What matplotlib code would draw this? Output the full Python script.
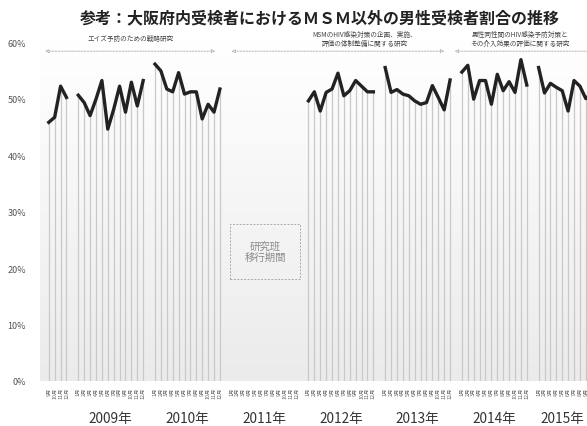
import numpy as np
import matplotlib.pyplot as plt
from matplotlib.patches import Rectangle
from matplotlib.transforms import blended_transform_factory

plt.rcParams['font.family'] = ['Noto Sans CJK JP', 'DejaVu Sans']

# monthly share (%) per year; None = no data
y2008 = [None] * 8 + [45.8, 46.7, 52.2, 50.2]   # Sep-Dec only
y2009 = [50.6, 49.3, 47.0, 49.9, 53.2, 44.6, 48.1, 52.2, 47.6, 52.9, 48.7, 53.2]
y2010 = [56.1, 54.9, 51.7, 51.2, 54.6, 50.8, 51.2, 51.2, 46.4, 49.0, 47.6, 51.7]
y2011 = [None] * 12
y2012 = [49.6, 51.2, 47.8, 51.1, 51.7, 54.5, 50.5, 51.4, 53.2, 52.2, 51.2, 51.2]
y2013 = [55.5, 51.1, 51.6, 50.8, 50.5, 49.6, 49.0, 49.3, 52.3, 50.2, 48.0, 53.3]
y2014 = [54.7, 55.9, 49.9, 53.2, 53.2, 49.0, 54.3, 51.4, 53.0, 51.1, 56.9, 52.4]
y2015 = [55.5, 51.0, 52.7, 52.0, 51.4, 47.8, 53.2, 52.2, 50.0, 51.0, 50.5, 51.0]

years = [2008, 2009, 2010, 2011, 2012, 2013, 2014, 2015]
series = [y2008, y2009, y2010, y2011, y2012, y2013, y2014, y2015]
year_labels = ['2009年', '2010年', '2011年', '2012年', '2013年', '2014年', '2015年']

fig = plt.figure(figsize=(5.87, 4.27), dpi=100)
ax = fig.add_axes([0.068, 0.1054, 0.932, 0.7936])

# light gray gradient in the plot area
grad = np.linspace(0, 1, 256).reshape(-1, 1)
ax.imshow(grad, extent=[0, 1, 0, 1], transform=ax.transAxes, aspect='auto',
          cmap=plt.matplotlib.colors.LinearSegmentedColormap.from_list('g', ['#ebebeb', '#ffffff']),
          origin='lower', zorder=0)

xticks, xlabels = [], []
for k, (yr, vals) in enumerate(zip(years, series)):
    base = (yr - 2009) * 13
    xs = [base + m for m in range(12)]
    for m in range(12):
        if yr == 2008 and m < 8:
            continue
        xticks.append(xs[m])
        xlabels.append(f'{m + 1}月')
    pts = [(x, v) for x, v in zip(xs, vals) if v is not None]
    if not pts:
        continue
    px, pv = zip(*pts)
    pv = np.array(pv) / 100
    ax.vlines(px, 0, pv, color='#c9c9c9', lw=0.9, zorder=1)
    ax.plot(px, pv, color='#222222', lw=2.4, solid_joinstyle='round', zorder=3)

ax.set_yticks(np.arange(0, 0.61, 0.1))
ax.set_yticklabels([f'{int(round(t * 100))}%' for t in np.arange(0, 0.61, 0.1)],
                   fontsize=6.5, color='#555555')
ax.set_xticks(xticks)
ax.set_xticklabels(xlabels, rotation=90, fontsize=3.8, color='#666666')
ax.set_xlim(-6.5, 86.2)
ax.set_ylim(0, 0.6)
ax.tick_params(length=0, pad=4)
ax.tick_params(axis='y', pad=10)
for s in ax.spines.values():
    s.set_visible(False)

trans = blended_transform_factory(ax.transData, ax.transAxes)
for i, lab in enumerate(year_labels):
    xc = i * 13 + 5.5
    if i == len(year_labels) - 1:
        xc = 82.0   # last year is cut by the frame, centre on the visible part
    ax.text(xc, -0.108, lab, transform=trans, ha='center', va='center',
            fontsize=9.8, color='#333333', clip_on=False)

# research period arrows
arrows = [(-5.6, 23.2, 8.8, 'エイズ予防のための戦略研究'),
          (26.0, 62.0, 48.6, 'MSMのHIV感染対策の企画、実施、\n評価の体制整備に関する研究'),
          (63.8, 90.0, 74.8, '男性同性間のHIV感染予防対策と\nその介入効果の評価に関する研究')]
for x0, x1, xt, txt in arrows:
    ax.annotate('', xy=(x0, 0.584), xytext=(x1, 0.584), annotation_clip=False,
                arrowprops=dict(arrowstyle='<|-|>', linestyle=(0, (2, 1.5)), color='#aaaaaa',
                                lw=0.6, mutation_scale=5, fc='white', shrinkA=0, shrinkB=0))
    ax.text(xt, 0.607, txt, ha='center', va='center', fontsize=4.8, color='#444444',
            linespacing=1.1, clip_on=False)

ax.add_patch(Rectangle((25.7, 0.181), 11.9, 0.097, fill=False, ec='#aaaaaa',
                       ls=(0, (2, 1.5)), lw=0.7, zorder=2))
ax.text(31.65, 0.2295, '研究班\n移行期間', ha='center', va='center', fontsize=7.5,
        color='#8a8a8a', linespacing=1.2)

fig.text(0.545, 0.958, '参考：大阪府内受検者におけるＭＳＭ以外の男性受検者割合の推移',
         ha='center', va='center', fontsize=11.5, fontweight='bold', color='#222222')

fig.savefig('out.png', dpi=100)
